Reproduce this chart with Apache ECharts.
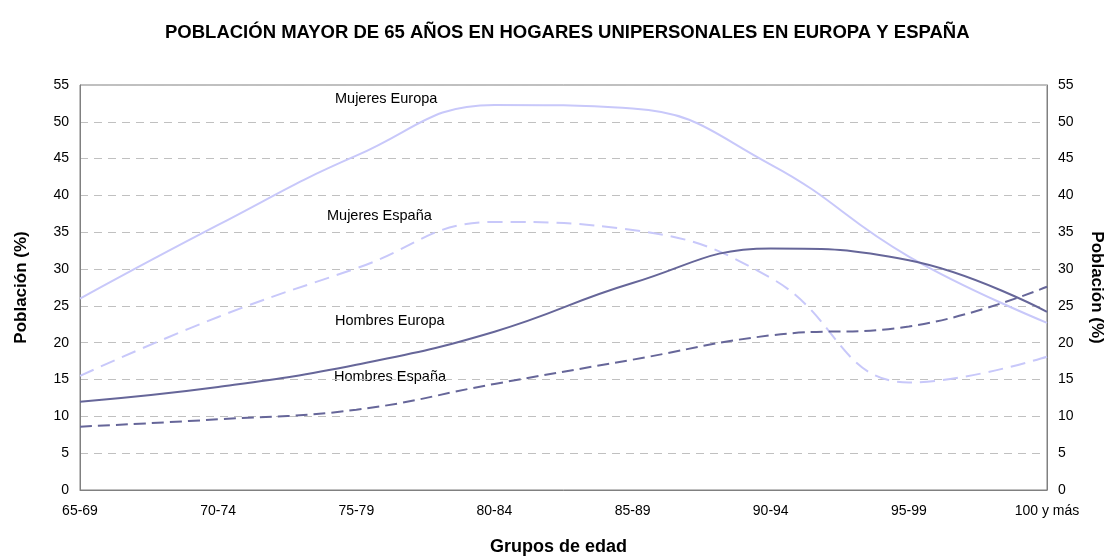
<!DOCTYPE html>
<html>
<head>
<meta charset="utf-8">
<script src="https://cdn.jsdelivr.net/npm/echarts@6/dist/echarts.min.js"></script>
<style>
  html, body { margin: 0; padding: 0; background: #fff; }
  #chart { width: 1110px; height: 556px; }
</style>
</head>
<body>
<div id="chart"></div>
<script>
// grupos de edad
var categories = ['65-69', '70-74', '75-79', '80-84', '85-89', '90-94', '95-99', '100 y más'];
// porcentaje en hogares unipersonales
var mujeresEuropa = [26.0, 36.0, 45.4, 52.3, 51.8, 44.2, 31.7, 22.7];
var mujeresEspana = [15.5, 23.5, 30.1, 36.4, 35.3, 28.8, 14.6, 18.1];
var hombresEuropa = [12.0, 14.0, 17.0, 21.5, 28.1, 32.8, 31.2, 24.2];
var hombresEspana = [8.6, 9.6, 10.9, 14.4, 17.7, 21.0, 22.2, 27.6];
var yTicks = [0, 5, 10, 15, 20, 25, 30, 35, 40, 45, 50, 55];

var claro = '#c8c8fa';
var oscuro = '#666699';
var fuente = 'Liberation Sans, Arial, sans-serif';

var chart = echarts.init(document.getElementById('chart'));

function ejeY(pos, rot, gap) {
    return {
        type: 'value',
        position: pos,
        min: yTicks[0],
        max: yTicks[yTicks.length - 1],
        interval: 5,
        name: 'Población (%)',
        nameLocation: 'middle',
        nameRotate: rot,
        nameGap: gap,
        nameTextStyle: { fontFamily: fuente, fontSize: 17, fontWeight: 'bold', color: '#000' },
        axisLine: { show: true, lineStyle: { color: '#808080', width: 1 } },
        axisTick: { show: false },
        axisLabel: { fontFamily: fuente, fontSize: 14, color: '#000', margin: 11 },
        splitLine: pos === 'left'
            ? { show: true, lineStyle: { color: '#c0c0c0', type: [8, 6], width: 1 } }
            : { show: false }
    };
}

function serie(nombre, datos, color, tipo) {
    return {
        name: nombre,
        type: 'line',
        data: datos,
        smooth: 0.45,
        symbol: 'none',
        lineStyle: { color: color, width: 2, type: tipo },
        z: 3
    };
}

var option = {
    backgroundColor: '#fff',
    animation: false,
    title: {
        text: 'POBLACIÓN MAYOR DE 65 AÑOS EN HOGARES UNIPERSONALES EN EUROPA Y ESPAÑA',
        left: 160,
        top: 18,
        textStyle: { fontFamily: fuente, fontSize: 18.5, fontWeight: 'bold', color: '#000' }
    },
    grid: {
        left: 80, right: 63, top: 85, bottom: 66,
        outerBoundsMode: 'none',
        containLabel: false,
        show: true, borderColor: '#808080', borderWidth: 1
    },
    xAxis: {
        type: 'category',
        data: categories,
        boundaryGap: false,
        axisLine: { show: true, lineStyle: { color: '#808080', width: 1 } },
        axisTick: { show: false },
        axisLabel: { fontFamily: fuente, fontSize: 14, color: '#000', margin: 14 }
    },
    yAxis: [ejeY('left', 90, 50), ejeY('right', -90, 41)],
    series: [
        serie('Mujeres Europa', mujeresEuropa, claro, 'solid'),
        serie('Mujeres España', mujeresEspana, claro, [15, 8]),
        serie('Hombres Europa', hombresEuropa, oscuro, 'solid'),
        serie('Hombres España', hombresEspana, oscuro, [12, 6])
    ],
    graphic: [
        { type: 'text', left: 335, top: 91, style: { text: 'Mujeres Europa', font: '14.5px ' + fuente, fill: '#000' } },
        { type: 'text', left: 327, top: 208, style: { text: 'Mujeres España', font: '14.5px ' + fuente, fill: '#000' } },
        { type: 'text', left: 335, top: 313, style: { text: 'Hombres Europa', font: '14.5px ' + fuente, fill: '#000' } },
        { type: 'text', left: 334, top: 369, style: { text: 'Hombres España', font: '14.5px ' + fuente, fill: '#000' } },
        { type: 'text', left: 490, top: 538, style: { text: 'Grupos de edad', font: 'bold 18px ' + fuente, fill: '#000' } }
    ]
};

chart.setOption(option);
</script>
</body>
</html>
